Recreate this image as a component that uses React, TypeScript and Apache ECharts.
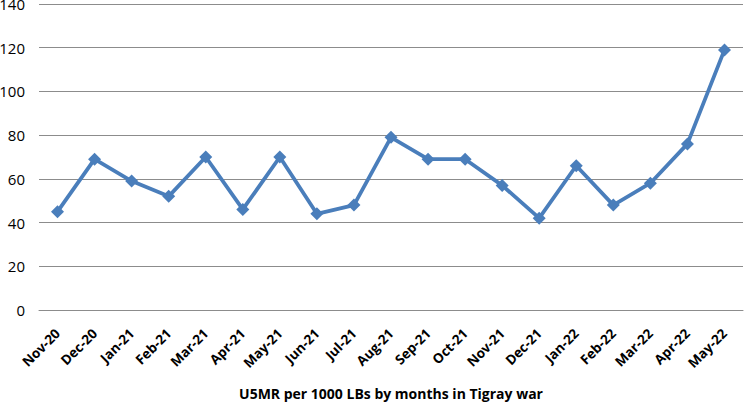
import React, { useEffect, useRef } from "react";
import * as echarts from "echarts";

const categories = [
  "Nov-20", "Dec-20", "Jan-21", "Feb-21", "Mar-21", "Apr-21", "May-21", "Jun-21",
  "Jul-21", "Aug-21", "Sep-21", "Oct-21", "Nov-21", "Dec-21", "Jan-22", "Feb-22",
  "Mar-22", "Apr-22", "May-22",
];
const u5mrValues = [45, 69, 59, 52, 70, 46, 70, 44, 48, 79, 69, 69, 57, 42, 66, 48, 58, 76, 119];
const yTicks = { min: 0, max: 140, interval: 20 };
const xAxisTitle = "U5MR per 1000 LBs by months in Tigray war";

export default function App() {
  const ref = useRef<HTMLDivElement>(null);
  useEffect(() => {
    if (!ref.current) return;
    const chart = echarts.init(ref.current, undefined, { renderer: "svg" });
    chart.setOption({
      animation: false,
      backgroundColor: "#ffffff",
      grid: {
        left: 39,
        right: 1,
        top: 4,
        bottom: 92,
        containLabel: false,
        outerBoundsMode: "none",
      },
      xAxis: {
        type: "category",
        data: categories,
        boundaryGap: true,
        axisLine: { show: true, lineStyle: { color: "#8c8c8c", width: 1 } },
        axisTick: { show: false },
        axisLabel: {
          rotate: 45,
          margin: 21,
          interval: 0,
          fontFamily: "Open Sans",
          fontWeight: "bold",
          fontSize: 13.5,
          color: "#000000",
        },
        name: xAxisTitle,
        nameLocation: "middle",
        nameGap: 76,
        nameTextStyle: {
          fontFamily: "Open Sans",
          fontWeight: "bold",
          fontSize: 14,
          color: "#000000",
        },
      },
      yAxis: {
        type: "value",
        min: yTicks.min,
        max: yTicks.max,
        interval: yTicks.interval,
        axisLine: { show: false },
        axisTick: { show: false },
        axisLabel: {
          margin: 14,
          fontFamily: "Open Sans",
          fontSize: 15,
          color: "#000000",
        },
        splitLine: { show: true, lineStyle: { color: "#8c8c8c", width: 1 } },
      },
      series: [
        {
          type: "line",
          data: u5mrValues,
          symbol: "diamond",
          symbolSize: 13,
          lineStyle: { color: "#4a7ebb", width: 3.8 },
          itemStyle: { color: "#4a7ebb" },
        },
      ],
    });
    return () => chart.dispose();
  }, []);
  return (
    <div
      ref={ref}
      style={{ position: "fixed", left: 0, top: 0, width: 744, height: 402 }}
    />
  );
}
